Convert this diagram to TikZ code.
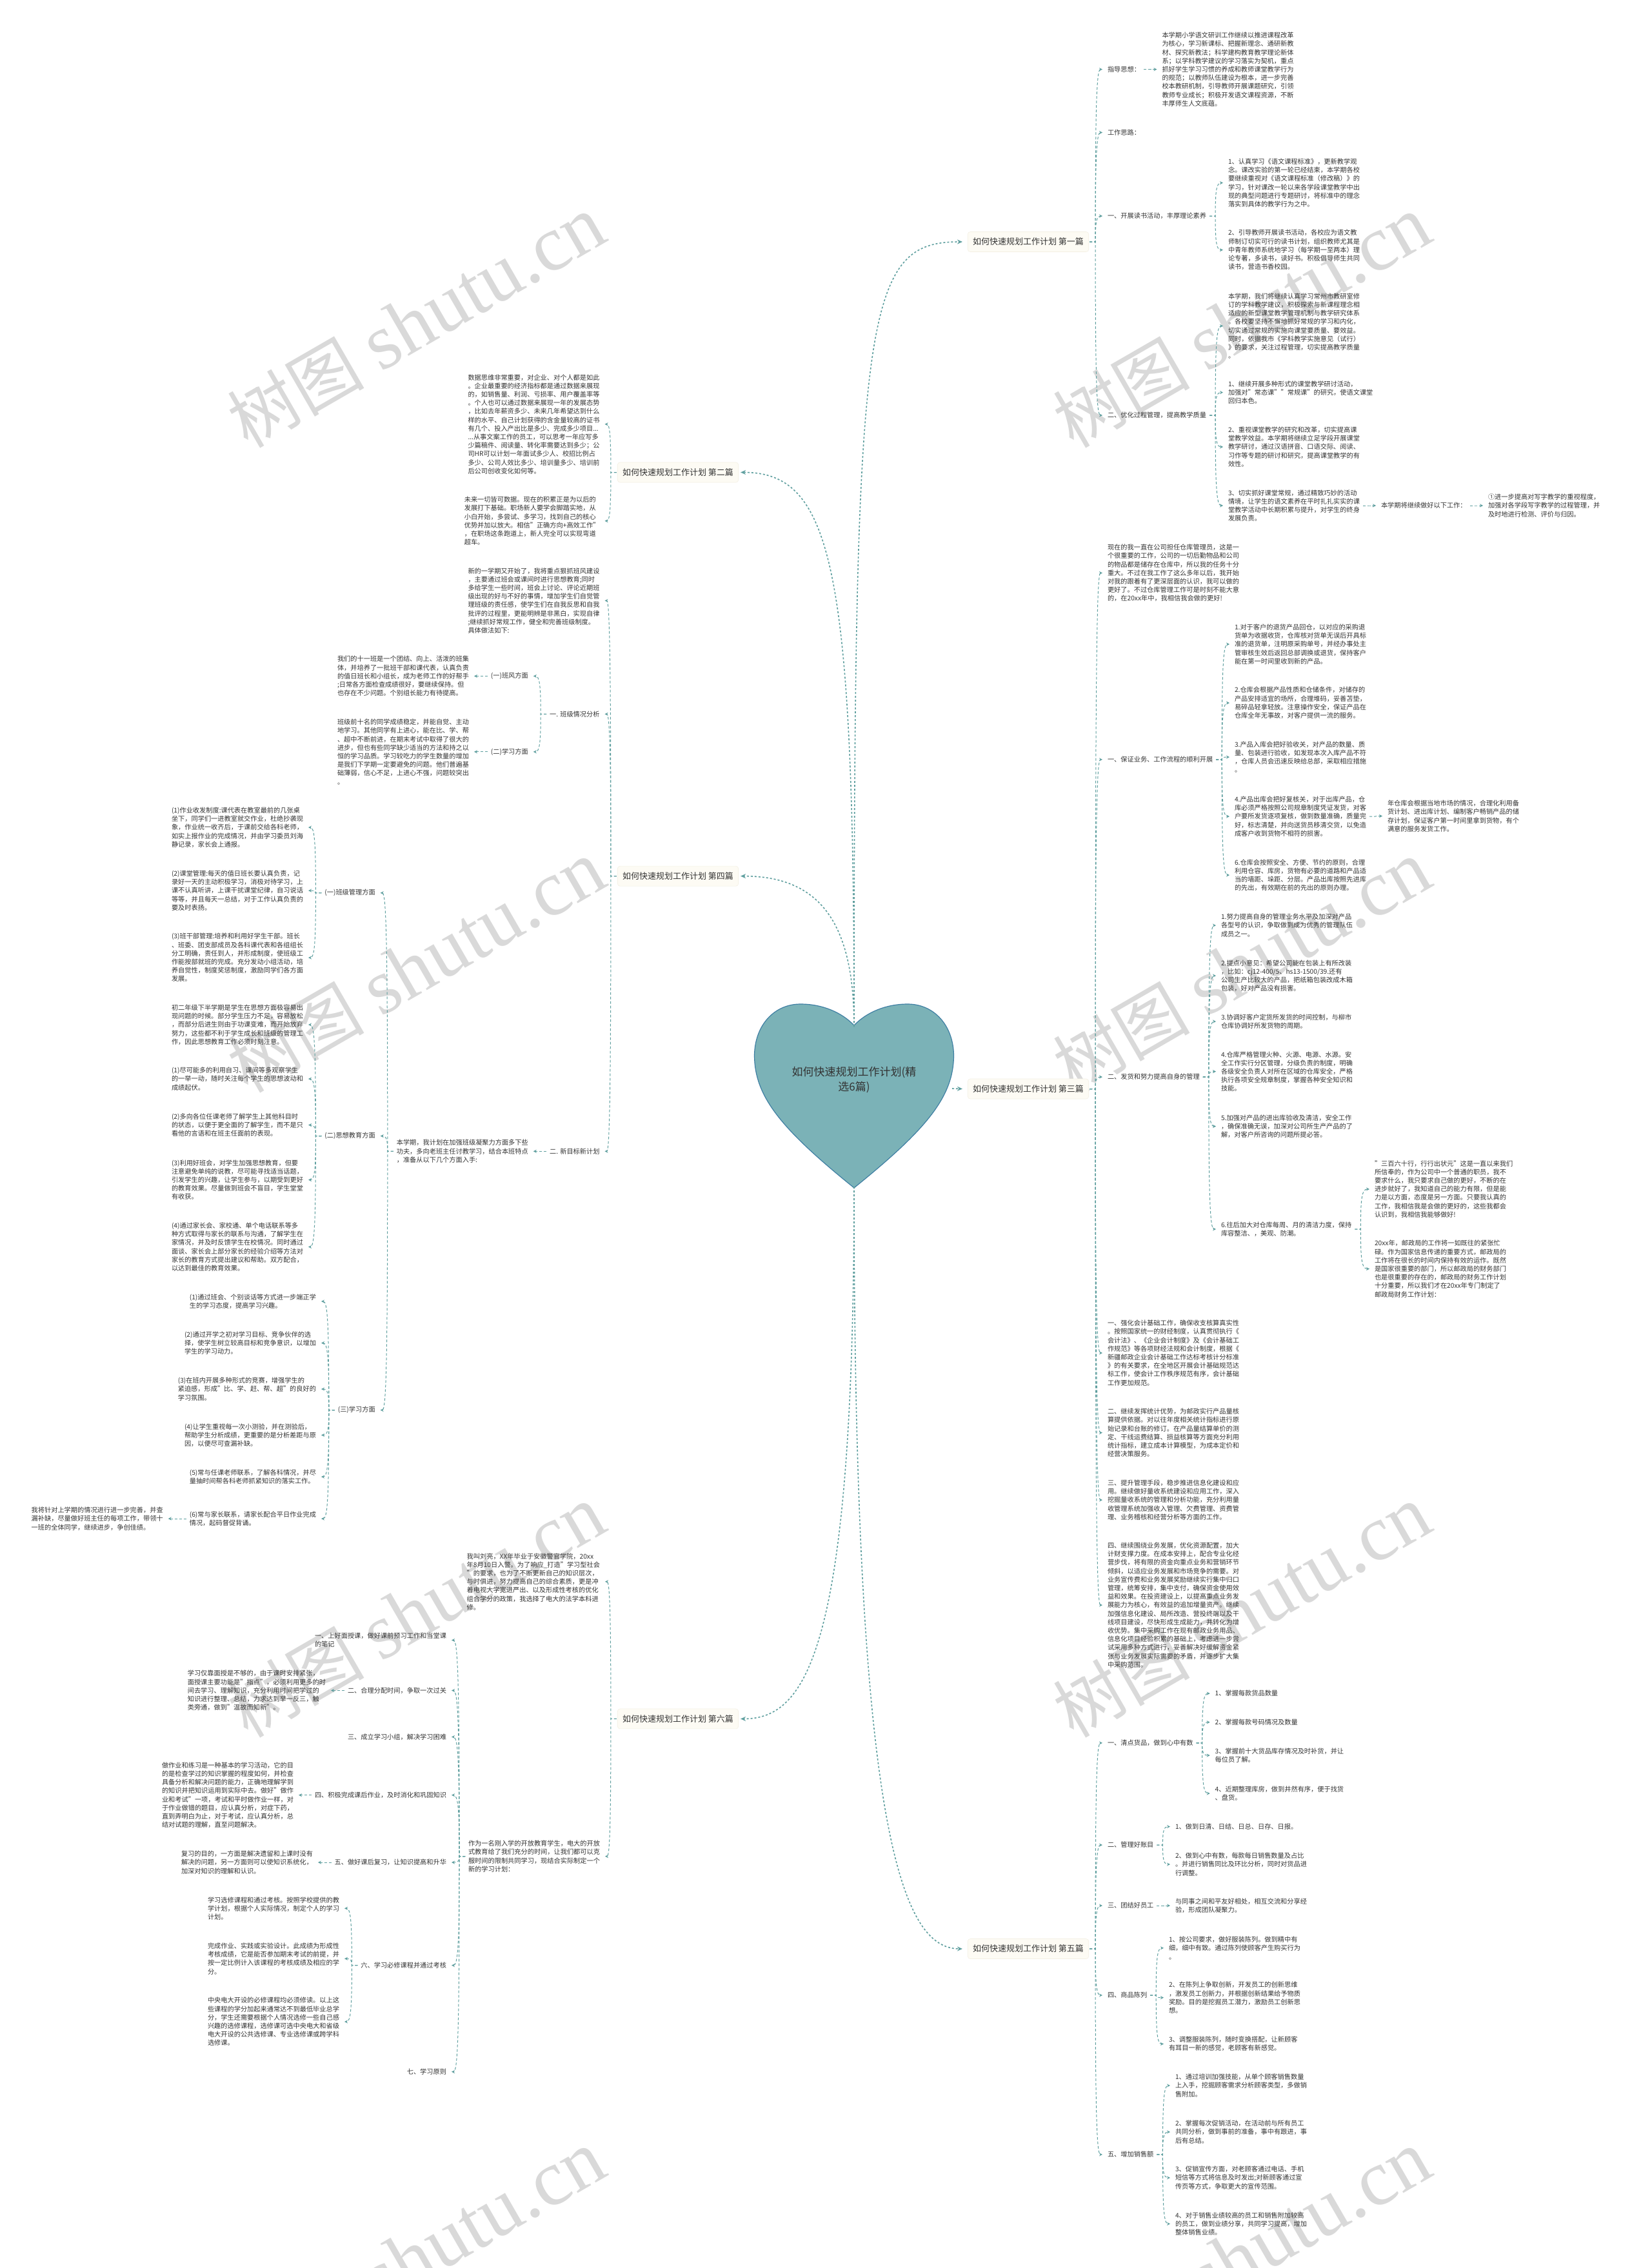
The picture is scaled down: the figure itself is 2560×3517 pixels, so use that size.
\documentclass[tikz,border=0pt]{standalone}
\usepackage{fontspec}
\setmainfont{Noto Sans CJK SC}
\newfontfamily\wmlatin{Liberation Serif}
\usetikzlibrary{arrows.meta,calc}
\definecolor{linkc}{HTML}{5F9F9F}
\definecolor{txtc}{HTML}{333333}
\definecolor{heartf}{HTML}{7BB2B7}
\definecolor{hearte}{HTML}{3F7FA3}
\definecolor{mainf}{HTML}{FDFBF4}
\definecolor{maine}{HTML}{F4F0E4}
\definecolor{wmc}{HTML}{D9D9D9}
\tikzset{
  txt/.style={inner sep=0pt,outer sep=0pt,align=left,text=txtc,font=\fontsize{10.2}{13.2}\selectfont},
  mainbox/.style={minimum width=187.5pt,minimum height=31pt,inner sep=0pt,rounded corners=4pt,fill=mainf,draw=maine,line width=.6pt,text=black!80,font=\fontsize{13}{15}\selectfont},
  link/.style={draw=linkc,line width=1pt,dash pattern=on 4pt off 3pt,-{Stealth[length=5pt,width=5pt]}},
  rootlink/.style={draw=linkc,line width=1.6pt,dash pattern=on 3pt off 3pt,-{Stealth[length=8pt,width=7pt]}},
  wmark/.style={anchor=base east,rotate=30,text=wmc,inner sep=0pt}
}
\newcommand\tw[4]{\node[txt,anchor=west] (#1) at (#2,#3) {#4};}
\newcommand\te[4]{\node[txt,anchor=east] (#1) at (#2,#3) {#4};}
\newcommand\linkR[3][14]{\draw[link] let \p1=(#2.east), \p2=(#3.west) in (\x1+#1-9,\y1) -- (\x1+#1,\y1) .. controls (\x1+#1,{\y1+0.8*(\y2-\y1)}) and (\x1+#1+2,\y2) .. (\x2-8,\y2);}
\newcommand\linkL[3][14]{\draw[link] let \p1=(#2.west), \p2=(#3.east) in (\x1-#1+9,\y1) -- (\x1-#1,\y1) .. controls (\x1-#1,{\y1+0.8*(\y2-\y1)}) and (\x1-#1-2,\y2) .. (\x2+8,\y2);}
\newcommand\wm[3]{\node[wmark] (#1) at (#2,#3) {{\fontsize{106}{106}\selectfont 树图}\hspace{26pt}{\wmlatin\fontsize{122}{122}\selectfont shutu.cn}};}
\begin{document}
\begin{tikzpicture}[x=1pt,y=-1pt]
\useasboundingbox (0,0) rectangle (2560,3517);
\fill[white] (0,0) rectangle (2560,3517);
% watermarks
\wm{wa}{946}{372}\wm{wb}{2226}{372}
\wm{wc}{946}{1372}\wm{wd}{2226}{1372}
\wm{we}{946}{2372}\wm{wf}{2226}{2372}
\wm{wg}{946}{3372}\wm{wh}{2226}{3372}
% heart
\draw[fill=heartf,draw=hearte,line width=1.2pt] (1324,1590) .. controls (1305,1570) and (1275,1557) .. (1241,1557) .. controls (1200,1557) and (1170,1590) .. (1169.5,1637) .. controls (1170,1700) and (1210,1750) .. (1324,1842) .. controls (1438,1750) and (1478,1700) .. (1478.5,1637) .. controls (1478,1590) and (1448,1557) .. (1407,1557) .. controls (1373,1557) and (1343,1570) .. (1324,1590) -- cycle;
\node[inner sep=0pt,align=center,text=txtc,font=\fontsize{17}{23}\selectfont] (root) at (1324,1675) {如何快速规划工作计划(精\\选6篇)};
\coordinate (heartT) at (1324,1592);
\coordinate (heartB) at (1324,1840);
\coordinate (heartR) at (1476,1688);
% main nodes
\node[mainbox] (m1) at (1594,375) {如何快速规划工作计划 第一篇};
\node[mainbox] (m2) at (1051,732.5) {如何快速规划工作计划 第二篇};
\node[mainbox] (m3) at (1594,1688.5) {如何快速规划工作计划 第三篇};
\node[mainbox] (m4) at (1051,1358.6) {如何快速规划工作计划 第四篇};
\node[mainbox] (m5) at (1594,3022) {如何快速规划工作计划 第五篇};
\node[mainbox] (m6) at (1051,2665.4) {如何快速规划工作计划 第六篇};
\draw[rootlink] (heartT) .. controls (1324,480) and (1340,375) .. ($(m1.west)+(-8,0)$);
\draw[rootlink] (heartT) .. controls (1324,880) and (1290,732.5) .. ($(m2.east)+(3,0)$);
\draw[rootlink] (heartR) -- ($(m3.west)+(-8,0)$);
\draw[rootlink] (heartT) .. controls (1324,1430) and (1270,1358.6) .. ($(m4.east)+(3,0)$);
\draw[rootlink] (heartB) .. controls (1324,2850) and (1400,3022) .. ($(m5.west)+(-8,0)$);
\draw[rootlink] (heartB) .. controls (1324,2560) and (1250,2665.4) .. ($(m6.east)+(3,0)$);
% ---------- section 1
\tw{a1}{1717}{107.6}{指导思想：}
\tw{a1t}{1801.5}{107.6}{本学期小学语文研训工作继续以推进课程改革\\为核心，学习新课标、把握新理念、通研新教\\材、探究新教法；科学建构教育教学理论新体\\系；以学科教学建议的学习落实为契机，重点\\抓好学生学习习惯的养成和教师课堂教学行为\\的规范；以教师队伍建设为根本，进一步完善\\校本教研机制，引导教师开展课题研究，引领\\教师专业成长；积极开发语文课程资源，不断\\丰厚师生人文底蕴。}
\tw{a2}{1717}{205.5}{工作思路：}
\tw{a3}{1717}{335}{一、开展读书活动，丰厚理论素养}
\tw{a3a}{1904}{283.6}{1、认真学习《语文课程标准》，更新教学观\\念。课改实验的第一轮已经结束，本学期各校\\要继续重视对《语文课程标准（修改稿）》的\\学习，针对课改一轮以来各学段课堂教学中出\\现的典型问题进行专题研讨，将标准中的理念\\落实到具体的教学行为之中。}
\tw{a3b}{1904}{387.6}{2、引导教师开展读书活动，各校应为语文教\\师制订切实可行的读书计划，组织教师尤其是\\中青年教师系统地学习（每学期一至两本）理\\论专著，多读书，读好书。积极倡导师生共同\\读书，营造书香校园。}
\tw{a4}{1717}{644}{二、优化过程管理，提高教学质量}
\tw{a4a}{1904}{505.5}{本学期，我们将继续认真学习常州市教研室修\\订的学科教学建议，积极探索与新课程理念相\\适应的新型课堂教学管理机制与教学研究体系\\。各校要坚持不懈地抓好常规的学习和内化，\\切实通过常规的实施向课堂要质量、要效益。\\同时，依据我市《学科教学实施意见（试行）\\》的要求，关注过程管理，切实提高教学质量\\。}
\tw{a4b}{1904}{608.6}{1、继续开展多种形式的课堂教学研讨活动，\\加强对"常态课""常规课"的研究，使语文课堂\\回归本色。}
\tw{a4c}{1904}{693}{2、重视课堂教学的研究和改革，切实提高课\\堂教学效益。本学期将继续立足学段开展课堂\\教学研讨，通过汉语拼音、口语交际、阅读、\\习作等专题的研讨和研究，提高课堂教学的有\\效性。}
\tw{a4d}{1904}{784}{3、切实抓好课堂常规，通过精致巧妙的活动\\情境，让学生的语文素养在平时扎扎实实的课\\堂教学活动中长期积累与提升，对学生的终身\\发展负责。}
\tw{a4e}{2141}{784}{本学期将继续做好以下工作：}
\tw{a4f}{2307}{784}{①进一步提高对写字教学的重视程度，\\加强对各学段写字教学的过程管理，并\\及时地进行检测、评价与归因。}
\linkR[10]{m1}{a1}\linkR[10]{m1}{a2}\linkR[10]{m1}{a3}\linkR[10]{m1}{a4}
\linkR{a1}{a1t}
\linkR{a3}{a3a}\linkR{a3}{a3b}
\linkR{a4}{a4a}\linkR{a4}{a4b}\linkR{a4}{a4c}\linkR{a4}{a4d}
\linkR{a4d}{a4e}\linkR{a4e}{a4f}
% ---------- section 3
\tw{b0}{1717}{888.5}{现在的我一直在公司担任仓库管理员，这是一\\个很重要的工作，公司的一切后勤物品和公司\\的物品都是储存在仓库中，所以我的任务十分\\重大。不过在我工作了这么多年以后，我开始\\对我的跟着有了更深层面的认识，我可以做的\\更好了。不过仓库管理工作可是时刻不能大意\\的，在20xx年中，我相信我会做的更好!}
\tw{b1}{1717}{1177.8}{一、保证业务、工作流程的顺利开展}
\tw{b1a}{1914}{999}{1.对于客户的退货产品回仓，以对应的采购退\\货单为收据收货，仓库核对货单无误后开具标\\准的退货单，注明原采购单号，并经办事处主\\管审核生效后返回总部调换或退货，保持客户\\能在第一时间里收到新的产品。}
\tw{b1b}{1914}{1090}{2.仓库会根据产品性质和仓储条件，对储存的\\产品安排适宜的场所，合理堆码，妥善苫垫，\\易碎品轻拿轻放。注意操作安全，保证产品在\\仓库全年无事故，对客户提供一流的服务。}
\tw{b1c}{1914}{1174}{3.产品入库会把好验收关，对产品的数量、质\\量、包装进行验收，如发现本次入库产品不符\\，仓库人员会迅速反映给总部，采取相应措施\\。}
\tw{b1d}{1914}{1266}{4.产品出库会把好复核关，对于出库产品，仓\\库必须严格按照公司规章制度凭证发货，对客\\户要所发货逐项复核，做到数量准确，质量完\\好，标志清楚，并向送货员移清交货，以免造\\成客户收到货物不相符的损害。}
\tw{b1e}{1914}{1357}{6.仓库会按照安全、方便、节约的原则，合理\\利用仓容、库房，货物有必要的道路和产品适\\当的墙距、垛距、分层。产品出库按照先进库\\的先出，有效期在前的先出的原则办理。}
\tw{b1f}{2151}{1265.5}{年仓库会根据当地市场的情况，合理化利用备\\货计划、进出库计划、编制客户畅销产品的储\\存计划，保证客户第一时间里拿到货物，有个\\满意的服务发货工作。}
\tw{b2}{1717}{1670}{二、发货和努力提高自身的管理}
\tw{b2a}{1893}{1435}{1.努力提高自身的管理业务水平及加深对产品\\各型号的认识，争取做到成为优秀的管理队伍\\成员之一。}
\tw{b2b}{1893}{1513}{2.提点小意见：希望公司能在包装上有所改装\\，比如：cj12-400/5、hs13-1500/39.还有\\公司生产比较大的产品，把纸箱包装改成木箱\\包装，好对产品没有损害。}
\tw{b2c}{1893}{1584}{3.协调好客户定货所发货的时间控制，与柳市\\仓库协调好所发货物的周期。}
\tw{b2d}{1893}{1661.6}{4.仓库严格管理火种、火源、电源、水源。安\\全工作实行分区管理，分级负责的制度，明确\\各级安全负责人对所在区域的仓库安全，严格\\执行各项安全规章制度，掌握各种安全知识和\\技能。}
\tw{b2e}{1893}{1746.6}{5.加强对产品的进出库验收及清洁，安全工作\\，确保准确无误，加深对公司所生产产品的了\\解，对客户所咨询的问题所提必答。}
\tw{b2f}{1893}{1906}{6.往后加大对仓库每周、月的清洁力度，保持\\库容整洁、，美观、防潮。}
\tw{b2g}{2131}{1844}{"三百六十行，行行出状元"这是一直以来我们\\所信奉的，作为公司中一个普通的职员，我不\\要求什么，我只要求自己做的更好，不断的在\\进步就好了，我知道自己的能力有限，但是能\\力是以方面，态度是另一方面。只要我认真的\\工作，我相信我是会做的更好的，这些我都会\\认识到，我相信我能够做好!}
\tw{b2h}{2131}{1967.6}{20xx年，邮政局的工作将一如既往的紧张忙\\碌。作为国家信息传递的重要方式，邮政局的\\工作将在很长的时间内保持有效的运作。既然\\是国家很重要的部门，所以邮政局的财务部门\\也是很重要的存在的，邮政局的财务工作计划\\十分重要，所以我们才在20xx年专门制定了\\邮政局财务工作计划：}
\tw{c1}{1717}{2098}{一、强化会计基础工作，确保收支核算真实性\\。按照国家统一的财经制度，认真贯彻执行《\\会计法》、《企业会计制度》及《会计基础工\\作规范》等各项财经法规和会计制度，根据《\\新疆邮政企业会计基础工作达标考核计分标准\\》的有关要求，在全地区开展会计基础规范达\\标工作，使会计工作秩序规范有序，会计基础\\工作更加规范。}
\tw{c2}{1717}{2221.7}{二、继续发挥统计优势，为邮政实行产品量核\\算提供依据。对以往年度相关统计指标进行原\\始记录和台账的修订。在产品量结算单价的测\\定、干线运费结算、损益核算等方面充分利用\\统计指标，建立成本计算模型，为成本定价和\\经营决策服务。}
\tw{c3}{1717}{2326}{三、提升管理手段，稳步推进信息化建设和应\\用。继续做好量收系统建设和应用工作，深入\\挖掘量收系统的管理和分析功能，充分利用量\\收管理系统加强收入管理、欠费管理、资费管\\理、业务稽核和经营分析等方面的工作。}
\tw{c4}{1717}{2489}{四、继续围绕业务发展，优化资源配置，加大\\计财支撑力度。在成本安排上，配合专业化经\\营步伐，将有限的资金向重点业务和营销环节\\倾斜，以适应业务发展和市场竞争的需要。对\\业务宣传费和业务发展奖励继续实行集中归口\\管理，统筹安排，集中支付，确保资金使用效\\益和效果。在投资建设上，以提高重点业务发\\展能力为核心，有效益的追加增量资产。继续\\加强信息化建设、局所改造、营投终端以及干\\线项目建设，尽快形成生成能力，并转化为增\\收优势。集中采购工作在现有邮政业务用品、\\信息化项目经验积累的基础上，考虑进一步尝\\试采用多种方式进行，妥善解决好缓解资金紧\\张与业务发展实际需要的矛盾，并逐步扩大集\\中采购范围。}
\linkR[10]{m3}{b0}\linkR[10]{m3}{b1}\linkR[10]{m3}{b2}\linkR[10]{m3}{c1}\linkR[10]{m3}{c2}\linkR[10]{m3}{c3}\linkR[10]{m3}{c4}
\linkR{b1}{b1a}\linkR{b1}{b1b}\linkR{b1}{b1c}\linkR{b1}{b1d}\linkR{b1}{b1e}\linkR{b1d}{b1f}
\linkR{b2}{b2a}\linkR{b2}{b2b}\linkR{b2}{b2c}\linkR{b2}{b2d}\linkR{b2}{b2e}\linkR{b2}{b2f}
\linkR{b2f}{b2g}\linkR{b2f}{b2h}
% ---------- section 5
\tw{d1}{1717}{2702.8}{一、清点货品，做到心中有数}
\tw{d1a}{1883.7}{2626}{1、掌握每款货品数量}
\tw{d1b}{1883.7}{2670.6}{2、掌握每款号码情况及数量}
\tw{d1c}{1883.7}{2722}{3、掌握前十大货品库存情况及时补货，并让\\每位员了解。}
\tw{d1d}{1883.7}{2781}{4、近期整理库房，做到井然有序，便于找货\\、盘货。}
\tw{d2}{1717}{2861}{二、管理好账目}
\tw{d2a}{1822}{2832.5}{1、做到日清、日结、日总、日存、日报。}
\tw{d2b}{1822}{2891}{2、做到心中有数，每款每日销售数量及占比\\。并进行销售同比及环比分析，同时对货品进\\行调整。}
\tw{d3}{1717}{2955}{三、团结好员工}
\tw{d3a}{1822}{2955}{与同事之间和平友好相处，相互交流和分享经\\验，形成团队凝聚力。}
\tw{d4}{1717}{3094}{四、商品陈列}
\tw{d4a}{1812}{3020.8}{1、按公司要求，做好服装陈列。做到精中有\\细，细中有致。通过陈列使顾客产生购买行为\\。}
\tw{d4b}{1812}{3097.7}{2、在陈列上争取创新，开发员工的创新思维\\，激发员工创新力，并根据创新结果给予物质\\奖励。目的是挖掘员工潜力，激励员工创新思\\想。}
\tw{d4c}{1812}{3169.5}{3、调整服装陈列，随时变换搭配，让新顾客\\有耳目一新的感觉，老顾客有新感觉。}
\tw{d5}{1717}{3341}{五、增加销售额}
\tw{d5a}{1822}{3234}{1、通过培训加强技能，从单个顾客销售数量\\上入手，挖掘顾客需求分析顾客类型，多做销\\售附加。}
\tw{d5b}{1822}{3306}{2、掌握每次促销活动，在活动前与所有员工\\共同分析，做到事前的准备，事中有跟进，事\\后有总结。}
\tw{d5c}{1822}{3377}{3、促销宣传方面，对老顾客通过电话、手机\\短信等方式将信息及时发出;对新顾客通过宣\\传页等方式，争取更大的宣传范围。}
\tw{d5d}{1822}{3448.5}{4、对于销售业绩较高的员工和销售附加较高\\的员工，做到业绩分享，共同学习提高，增加\\整体销售业绩。}
\linkR[10]{m5}{d1}\linkR[10]{m5}{d2}\linkR[10]{m5}{d3}\linkR[10]{m5}{d4}\linkR[10]{m5}{d5}
\linkR{d1}{d1a}\linkR{d1}{d1b}\linkR{d1}{d1c}\linkR{d1}{d1d}
\linkR{d2}{d2a}\linkR{d2}{d2b}\linkR{d3}{d3a}
\linkR{d4}{d4a}\linkR{d4}{d4b}\linkR{d4}{d4c}
\linkR{d5}{d5a}\linkR{d5}{d5b}\linkR{d5}{d5c}\linkR{d5}{d5d}
% ---------- section 2
\te{e1}{929.5}{657.8}{数据思维非常重要，对企业、对个人都是如此\\。企业最重要的经济指标都是通过数据来展现\\的，如销售量、利润、亏损率、用户覆盖率等\\。个人也可以通过数据来展现一年的发展态势\\，比如去年薪资多少、未来几年希望达到什么\\样的水平、自己计划获得的含金量较高的证书\\有几个、投入产出比是多少、完成多少项目...\\...从事文案工作的员工，可以思考一年应写多\\少篇稿件、阅读量、转化率需要达到多少；公\\司HR可以计划一年面试多少人、校招比例占\\多少、公司人效比多少、培训量多少、培训前\\后公司创收变化如何等。}
\te{e2}{929.5}{807.8}{未来一切皆可数据。现在的积累正是为以后的\\发展打下基础。职场新人要学会脚踏实地，从\\小白开始，多尝试、多学习，找到自己的核心\\优势并加以放大。相信"正确方向+高效工作"\\，在职场这条跑道上，新人完全可以实现弯道\\超车。}
\linkL[10]{m2}{e1}\linkL[10]{m2}{e2}
% ---------- section 4
\te{f1}{929.5}{931.4}{新的一学期又开始了，我将重点狠抓班风建设\\，主要通过班会或课间时进行思想教育;同时\\多给学生一些时间，班会上讨论、评论近期班\\级出现的好与不好的事情，增加学生们自觉管\\理班级的责任感，使学生们在自我反思和自我\\批评的过程里，更能明辨是非黑白，实现自律\\;继续抓好常规工作，健全和完善班级制度。\\具体做法如下:}
\te{f2}{929.5}{1107.3}{一. 班级情况分析}
\te{f2a}{818.8}{1048.4}{(一)班风方面}
\te{f2at}{727}{1048.4}{我们的十一班是一个团结、向上、活泼的班集\\体，并培养了一批班干部和课代表，认真负责\\的值日班长和小组长，成为老师工作的好帮手\\;日常各方面检查成绩很好，要继续保持。但\\也存在不少问题。个别组长能力有待提高。}
\te{f2b}{818.8}{1165.8}{(二)学习方面}
\te{f2bt}{727}{1165.8}{班级前十名的同学成绩稳定，并能自觉、主动\\地学习。其他同学有上进心，能在比、学、帮\\、超中不断前进，在期末考试中取得了很大的\\进步，但也有些同学缺少适当的方法和持之以\\恒的学习品质。学习较吃力的学生数量的增加\\是我们下学期一定要避免的问题。他们普遍基\\础薄弱，信心不足，上进心不强，问题较突出\\。}
\te{f3}{929.5}{1785.3}{二. 新目标新计划}
\te{f3t}{818.8}{1785.3}{本学期，我计划在加强班级凝聚力方面多下些\\功夫，多向老班主任讨教学习，结合本班特点\\，准备从以下几个方面入手:}
\te{g1}{581.7}{1384.6}{(一)班级管理方面}
\te{g2}{581.7}{1761.6}{(二)思想教育方面}
\te{g3}{581.7}{2186.6}{(三)学习方面}
\te{g1a}{470}{1283}{(1)作业收发制度:课代表在教室最前的几张桌\\坐下，同学们一进教室就交作业，杜绝抄袭现\\象，作业统一收齐后，于课前交给各科老师，\\如实上报作业的完成情况，并由学习委员刘海\\静记录，家长会上通报。}
\te{g1b}{470}{1381}{(2)课堂管理:每天的值日班长要认真负责，记\\录好一天的主动积极学习，消极对待学习，上\\课不认真听讲，上课干扰课堂纪律，自习说话\\等等，并且每天一总结，对于工作认真负责的\\要及时表扬。}
\te{g1c}{470}{1485}{(3)班干部管理:培养和利用好学生干部。班长\\、班委、团支部成员及各科课代表和各组组长\\分工明确，责任到人，并形成制度，使班级工\\作能按部就班的完成。充分发动小组活动，培\\养自觉性，制度奖惩制度，激励同学们各方面\\发展。}
\te{g2a}{470}{1589}{初二年级下半学期是学生在思想方面极容易出\\现问题的时候。部分学生压力不足，容易放松\\，而部分后进生则由于功课变难，而开始放弃\\努力，这些都不利于学生成长和班级的管理工\\作，因此思想教育工作必须时刻注意。}
\te{g2b}{470}{1673}{(1)尽可能多的利用自习、课间等多观察学生\\的一举一动，随时关注每个学生的思想波动和\\成绩起伏。}
\te{g2c}{470}{1744.6}{(2)多向各位任课老师了解学生上其他科目时\\的状态，以便于更全面的了解学生，而不是只\\看他的言语和在班主任面前的表现。}
\te{g2d}{470}{1829.6}{(3)利用好班会，对学生加强思想教育，但要\\注意避免单纯的说教，尽可能寻找适当话题，\\引发学生的兴趣，让学生参与，以期受到更好\\的教育效果。尽量做到班会不盲目，学生堂堂\\有收获。}
\te{g2e}{470}{1933.5}{(4)通过家长会、家校通、单个电话联系等多\\种方式取得与家长的联系与沟通，了解学生在\\家情况，并及时反馈学生在校情况。同时通过\\面谈、家长会上部分家长的经验介绍等方法对\\家长的教育方式提出建议和帮助。双方配合，\\以达到最佳的教育效果。}
\te{g3a}{490}{2018}{(1)通过班会、个别谈话等方式进一步端正学\\生的学习态度，提高学习兴趣。}
\te{g3b}{490}{2082.6}{(2)通过开学之初对学习目标、竞争伙伴的选\\择，使学生树立较高目标和竞争意识，以增加\\学生的学习动力。}
\te{g3c}{490}{2154}{(3)在班内开展多种形式的竞赛，增强学生的\\紧迫感，形成"比、学、赶、帮、超"的良好的\\学习氛围。}
\te{g3d}{490}{2225.4}{(4)让学生重视每一次小测验，并在测验后，\\帮助学生分析成绩，更重要的是分析差距与原\\因，以便尽可查漏补缺。}
\te{g3e}{490}{2290}{(5)常与任课老师联系，了解各科情况，并尽\\量抽时间帮各科老师抓紧知识的落实工作。}
\te{g3f}{490}{2355}{(6)常与家长联系，请家长配合平日作业完成\\情况，起码督促背诵。}
\te{g3g}{252.7}{2355}{我将针对上学期的情况进行进一步完善，并查\\漏补缺，尽量做好班主任的每项工作，带领十\\一班的全体同学，继续进步，争创佳绩。}
\linkL[10]{m4}{f1}\linkL[10]{m4}{f2}\linkL[10]{m4}{f3}
\linkL{f2}{f2a}\linkL{f2}{f2b}\linkL{f2a}{f2at}\linkL{f2b}{f2bt}
\linkL{f3}{f3t}
\linkL{f3t}{g1}\linkL{f3t}{g2}\linkL{f3t}{g3}
\linkL{g1}{g1a}\linkL{g1}{g1b}\linkL{g1}{g1c}
\linkL{g2}{g2a}\linkL{g2}{g2b}\linkL{g2}{g2c}\linkL{g2}{g2d}\linkL{g2}{g2e}
\linkL{g3}{g3a}\linkL{g3}{g3b}\linkL{g3}{g3c}\linkL{g3}{g3d}\linkL{g3}{g3e}\linkL{g3}{g3f}
\linkL{g3f}{g3g}
% ---------- section 6
\te{h1}{930}{2452.7}{我叫刘亮，XX年毕业于安徽警官学院，20xx\\年8月10日入警。为了响应\_打造"学习型社会\\"的要求，也为了不断更新自己的知识层次，\\与时俱进，努力提高自己的综合素质，更是冲\\着电视大学宽进严出、以及形成性考核的优化\\组合学分的政策，我选择了电大的法学本科进\\修。}
\te{h2}{930}{2878.6}{作为一名刚入学的开放教育学生，电大的开放\\式教育给了我们充分的时间，让我们都可以克\\服时间的限制共同学习，现结合实际制定一个\\新的学习计划：}
\te{i1}{692}{2543.4}{一、上好面授课，做好课前预习工作和当堂课\\的笔记}
\te{i2}{692}{2621.4}{二、合理分配时间，争取一次过关}
\te{i2t}{505}{2621.4}{学习仅靠面授是不够的，由于课时安排紧张，\\面授课主要功能是"指点"，必须利用更多的时\\间去学习、理解知识，充分利用时间把学过的\\知识进行整理、总结，力求达到举一反三，触\\类旁通，做到"温故而知新"。}
\te{i3}{692}{2693.4}{三、成立学习小组，解决学习困难}
\te{i4}{692}{2783.7}{四、积极完成课后作业，及时消化和巩固知识}
\te{i4t}{455}{2783.7}{做作业和练习是一种基本的学习活动，它的目\\的是检查学过的知识掌握的程度如何，并检查\\具备分析和解决问题的能力，正确地理解学到\\的知识并把知识运用到实际中去。做好"做作\\业和考试"一项，考试和平时做作业一样，对\\于作业做错的题目，应认真分析，对症下药，\\直到弄明白为止，对于考试，应认真分析，总\\结对试题的理解，直至问题解决。}
\te{i5}{692}{2888}{五、做好课后复习，让知识提高和升华}
\te{i5t}{485}{2888}{复习的目的，一方面是解决遗留和上课时没有\\解决的问题，另一方面则可以使知识系统化，\\加深对知识的理解和认识。}
\te{i6}{692}{3047.7}{六、学习必修课程并通过考核}
\te{i6a}{526}{2959.3}{学习选修课程和通过考核。按照学校提供的教\\学计划，根据个人实际情况，制定个人的学习\\计划。}
\te{i6b}{526}{3037.3}{完成作业、实践或实验设计。此成绩为形成性\\考核成绩，它是能否参加期末考试的前提，并\\按一定比例计入该课程的考核成绩及相应的学\\分。}
\te{i6c}{526}{3135}{中央电大开设的必修课程均必须修读。以上这\\些课程的学分加起来通常达不到最低毕业总学\\分，学生还需要根据个人情况选修一些自己感\\兴趣的选修课程，选修课可选中央电大和省级\\电大开设的公共选修课、专业选修课或跨学科\\选修课。}
\te{i7}{692}{3212.7}{七、学习原则}
\linkL[10]{m6}{h1}\linkL[10]{m6}{h2}
\linkL{h2}{i1}\linkL{h2}{i2}\linkL{h2}{i3}\linkL{h2}{i4}\linkL{h2}{i5}\linkL{h2}{i6}\linkL{h2}{i7}
\linkL{i2}{i2t}\linkL{i4}{i4t}\linkL{i5}{i5t}
\linkL{i6}{i6a}\linkL{i6}{i6b}\linkL{i6}{i6c}
\end{tikzpicture}
\end{document}
